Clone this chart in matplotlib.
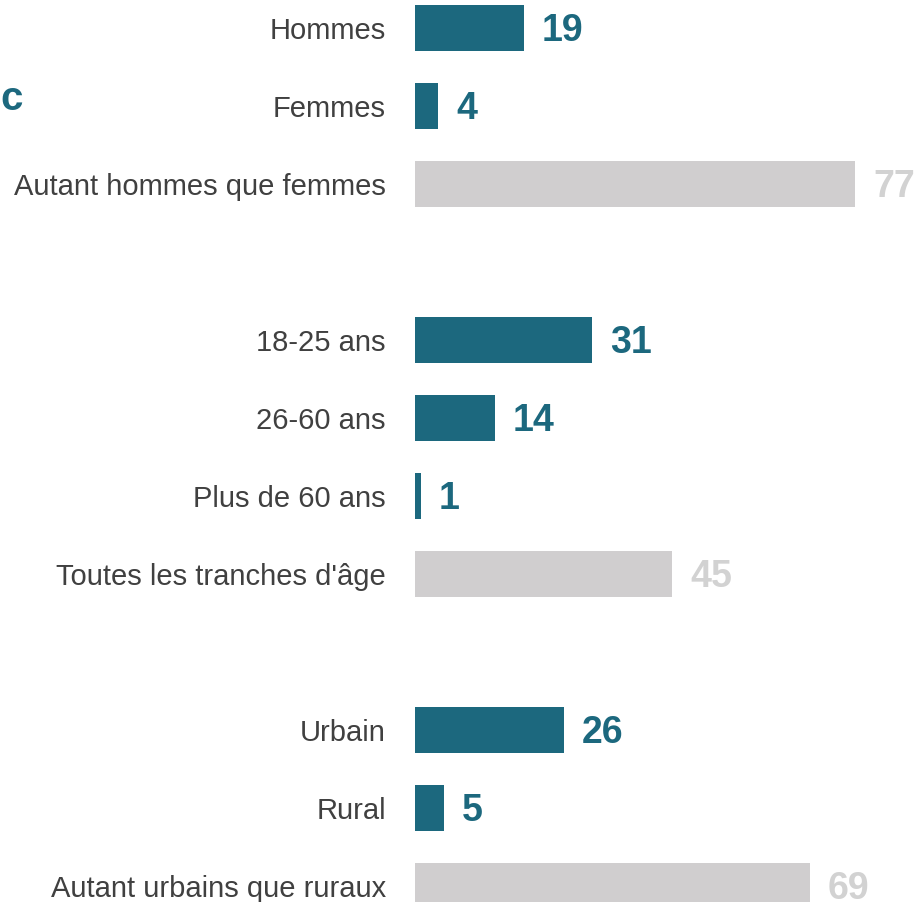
import matplotlib
matplotlib.use("Agg")
import matplotlib.pyplot as plt

plt.rcParams['font.family'] = ['Liberation Sans', 'DejaVu Sans']

categories = ["Hommes", "Femmes", "Autant hommes que femmes",
              "18-25 ans", "26-60 ans", "Plus de 60 ans", "Toutes les tranches d'âge",
              "Urbain", "Rural", "Autant urbains que ruraux"]
values = [19, 4, 77, 31, 14, 1, 45, 26, 5, 69]
is_neutral = [False, False, True, False, False, False, True, False, False, True]
positions = [0, 1, 2, 4, 5, 6, 7, 9, 10, 11]

TEAL = "#1c687e"
GREY_BAR = "#d0cecf"
GREY_TXT = "#d2d2d2"
LABEL = "#404040"

W, H = 920, 902
fig = plt.figure(figsize=(W / 100, H / 100), dpi=100)
ax = fig.add_axes([415 / W, 0, 505 / W, 1])

px_per_unit = 5.72
ax.set_xlim(0, 505 / px_per_unit)
ax.set_ylim((H - 28) / 78, -28 / 78)

colors = [GREY_BAR if n else TEAL for n in is_neutral]
ax.barh(positions, values, height=46 / 78, color=colors, linewidth=0)

for p, v, n in zip(positions, values, is_neutral):
    ax.annotate(str(v), xy=(v, p), xytext=(18 * 0.72, -12.5 * 0.72), textcoords="offset points",
                ha="left", va="baseline", fontsize=27, fontweight="bold",
                color=GREY_TXT if n else TEAL)

ax.set_yticks(positions)
ax.set_yticklabels(categories, fontsize=21, color=LABEL)
ax.tick_params(axis="y", length=0, pad=29 * 0.72)
ax.tick_params(axis="x", length=0, labelbottom=False)
for s in ax.spines.values():
    s.set_visible(False)

fig.text(0.5 / W, 1 - 110 / H, "c", ha="left", va="baseline", fontsize=29,
         fontweight="bold", color=TEAL)

fig.savefig("out.png", dpi=100)
